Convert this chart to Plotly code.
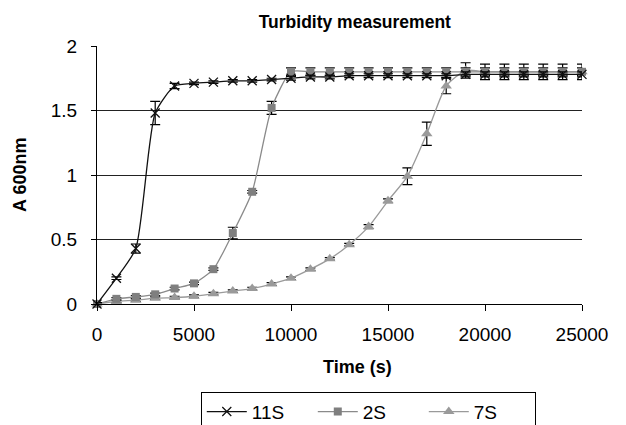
import plotly.graph_objects as go

time_s = [0, 1000, 2000, 3000, 4000, 5000, 6000, 7000, 8000, 9000, 10000, 11000, 12000,
          13000, 14000, 15000, 16000, 17000, 18000, 19000, 20000, 21000, 22000, 23000, 24000, 25000]

s11 = [0, 0.20, 0.43, 1.48, 1.69, 1.71, 1.72, 1.73, 1.73, 1.74, 1.75, 1.76, 1.76,
       1.77, 1.77, 1.77, 1.77, 1.77, 1.77, 1.78, 1.78, 1.78, 1.78, 1.78, 1.78, 1.78]
s11_err = [0.01, 0.01, 0.035, 0.09, 0.02, 0.01, 0.01, 0.01, 0.01, 0.01, 0.015, 0.015, 0.015,
           0.015, 0.015, 0.015, 0.015, 0.015, 0.015, 0.02, 0.02, 0.02, 0.02, 0.02, 0.02, 0.02]

s2 = [0, 0.04, 0.055, 0.075, 0.12, 0.16, 0.27, 0.55, 0.87, 1.52, 1.80, 1.80, 1.80,
      1.80, 1.80, 1.80, 1.80, 1.80, 1.80, 1.80, 1.80, 1.80, 1.80, 1.80, 1.80, 1.80]
s2_err = [0.01, 0.01, 0.01, 0.01, 0.01, 0.01, 0.01, 0.045, 0.01, 0.05, 0.03, 0.03, 0.03,
          0.03, 0.03, 0.03, 0.03, 0.03, 0.03, 0.03, 0.03, 0.03, 0.03, 0.03, 0.03, 0.03]

s7 = [0, 0.02, 0.03, 0.045, 0.05, 0.06, 0.08, 0.10, 0.12, 0.155, 0.20, 0.27, 0.35,
      0.46, 0.60, 0.80, 0.99, 1.32, 1.69, 1.81, 1.80, 1.80, 1.80, 1.80, 1.80, 1.80]
s7_err = [0.01, 0.01, 0.01, 0.01, 0.01, 0.01, 0.01, 0.01, 0.01, 0.01, 0.01, 0.01, 0.01,
          0.01, 0.015, 0.015, 0.065, 0.09, 0.06, 0.06, 0.06, 0.06, 0.06, 0.06, 0.06, 0.06]

x_ticks = [0, 5000, 10000, 15000, 20000, 25000]
y_ticks = [0, 0.5, 1, 1.5, 2]
y_tick_labels = ["0", "0.5", "1", "1.5", "2"]

FONT = "Liberation Sans, Arial, sans-serif"

fig = go.Figure()

def add_series(name, y, err, color, line_color, symbol, size, mline_color, mline_w):
    fig.add_trace(go.Scatter(
        x=time_s, y=y, name=name, mode="lines+markers",
        line=dict(color=line_color, width=1.3, shape="spline", smoothing=0.6),
        marker=dict(symbol=symbol, size=size, color=color,
                    line=dict(color=mline_color, width=mline_w)),
        error_y=dict(type="data", array=err, visible=True, color="black",
                     thickness=1.2, width=5),
        cliponaxis=False,
    ))

add_series("7S", s7, s7_err, "#9a9a9a", "#9a9a9a", "triangle-up", 10, "#9a9a9a", 0)
add_series("2S", s2, s2_err, "#7f7f7f", "#8a8a8a", "square", 8, "#7f7f7f", 0)
add_series("11S", s11, s11_err, "#111111", "#111111", "x-thin", 9, "#111111", 1.3)

fig.update_layout(
    width=626, height=425,
    paper_bgcolor="white", plot_bgcolor="white",
    margin=dict(l=89, r=52, t=38, b=129, autoexpand=False),
    font=dict(family=FONT, size=19, color="black"),
    title=dict(text="<b>Turbidity measurement</b>", x=0.554, xanchor="center",
               y=0.967, yanchor="middle", font=dict(size=17.5, family=FONT)),
    showlegend=True,
    legend=dict(orientation="h", x=0.214, xanchor="left",
                yref="container", y=0.0972, yanchor="top",
                bordercolor="black", borderwidth=1, bgcolor="white",
                traceorder="reversed", font=dict(size=19, family=FONT),
                itemwidth=40, entrywidth=56, entrywidthmode="pixels"),
    annotations=[
        dict(text="<b>Time (s)</b>", xref="paper", x=0.538, yref="paper", y=-0.244,
             xanchor="center", yanchor="middle", showarrow=False,
             font=dict(size=18, family=FONT)),
        dict(text="<b>A 600nm</b>", xref="paper", x=-0.159, yref="paper", y=0.5,
             xanchor="center", yanchor="middle", textangle=-90, showarrow=False,
             font=dict(size=18, family=FONT)),
    ],
)

fig.update_xaxes(
    range=[0, 25000], tickvals=x_ticks, ticktext=[str(v) for v in x_ticks],
    showgrid=False, zeroline=False, automargin=False,
    showline=True, linecolor="black", linewidth=1,
    ticks="outside", ticklen=6, tickcolor="black", ticklabelstandoff=7,
)
fig.update_yaxes(
    range=[0, 2], tickvals=y_ticks, ticktext=y_tick_labels,
    showgrid=True, gridcolor="#222222", gridwidth=1, zeroline=False, automargin=False,
    showline=True, linecolor="black", linewidth=1,
    ticks="outside", ticklen=5, tickcolor="black", ticklabelstandoff=10,
)

fig.write_html("out.html")
